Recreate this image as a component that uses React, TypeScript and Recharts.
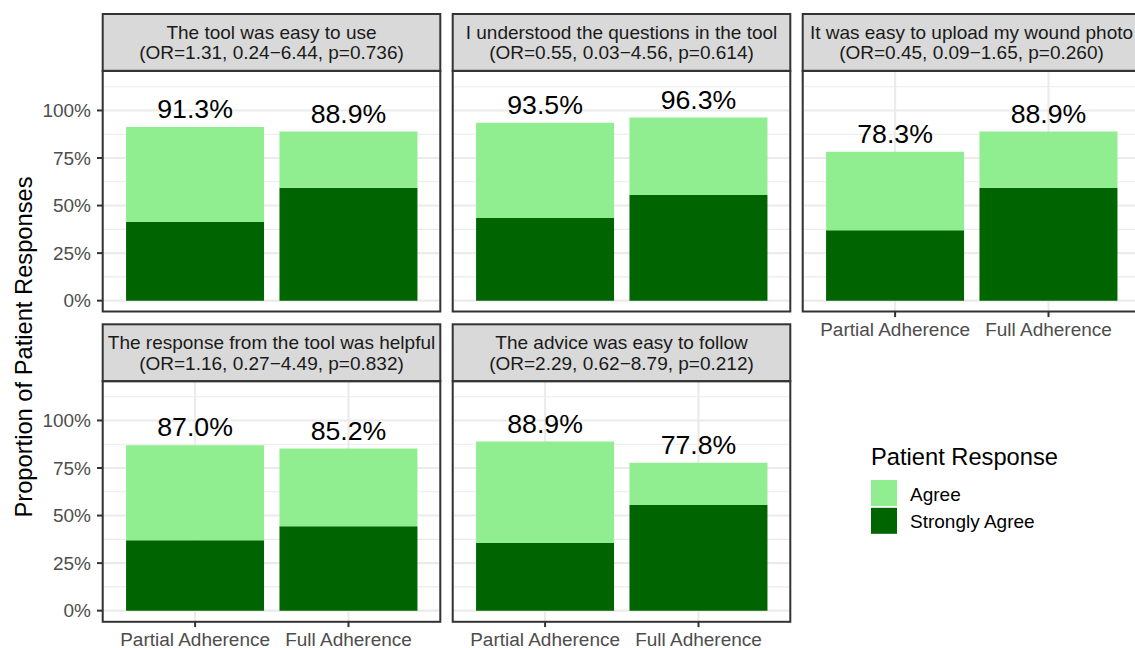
import React from 'react';
import { BarChart, Bar, XAxis, YAxis, CartesianGrid, LabelList } from 'recharts';

const adherenceGroups = ['Partial Adherence', 'Full Adherence'];
const questions = [
  'The tool was easy to use',
  'I understood the questions in the tool',
  'It was easy to upload my wound photo',
  'The response from the tool was helpful',
  'The advice was easy to follow',
];
const oddsRatioText = [
  '(OR=1.31, 0.24\u22126.44, p=0.736)',
  '(OR=0.55, 0.03\u22124.56, p=0.614)',
  '(OR=0.45, 0.09\u22121.65, p=0.260)',
  '(OR=1.16, 0.27\u22124.49, p=0.832)',
  '(OR=2.29, 0.62\u22128.79, p=0.212)',
];
const totalAgreePartial = [91.3, 93.5, 78.3, 87.0, 88.9];
const totalAgreeFull = [88.9, 96.3, 88.9, 85.2, 77.8];
const stronglyAgreePartial = [41.3, 43.5, 37.0, 37.0, 35.6];
const stronglyAgreeFull = [59.3, 55.6, 59.3, 44.4, 55.6];
const responseLevels = ['Agree', 'Strongly Agree'];
const responseColors = ['#90EE90', '#006400'];
const yTicks = [0, 25, 50, 75, 100];
const yMinorTicks = [12.5, 37.5, 62.5, 87.5, 112.5];
const yDomain: [number, number] = [-5.75, 120.75];

const FONT = '"Liberation Sans", Arial, Helvetica, sans-serif';
const COL_LEFT = [102.7, 452.7, 802.7];
const PANEL_W = 337.6;
const STRIP_TOP = [14, 324.3];
const STRIP_H = 56.9;
const PANEL_H = 240.6;

function facetData(i: number) {
  const totals = [totalAgreePartial[i], totalAgreeFull[i]];
  const strong = [stronglyAgreePartial[i], stronglyAgreeFull[i]];
  return adherenceGroups.map((g, j) => ({
    group: g,
    strongly: strong[j],
    agree: Math.round((totals[j] - strong[j]) * 10) / 10,
    label: totals[j].toFixed(1) + '%',
  }));
}

function Panel({ i }: { i: number }) {
  const row = Math.floor(i / 3);
  const col = i % 3;
  const showY = col === 0;
  const showX = i >= 2;
  const yW = showY ? 100 : 0;
  const xH = showX ? 40 : 0;
  const left = COL_LEFT[col] - yW;
  const top = STRIP_TOP[row] + STRIP_H;
  const w = PANEL_W + yW;
  const h = PANEL_H + xH;
  return (
    <div style={{ position: 'absolute', left, top, width: w, height: h }}>
      <BarChart
        width={w}
        height={h}
        data={facetData(i)}
        margin={{ top: 0, right: 0, bottom: 0, left: 0 }}
        barCategoryGap="5%"
      >
        <CartesianGrid horizontalValues={yMinorTicks} vertical={false} stroke="#EBEBEB" strokeWidth={1.1} />
        <CartesianGrid horizontalValues={yTicks} stroke="#EBEBEB" strokeWidth={2.1} />
        <XAxis
          dataKey="group"
          type="category"
          padding={{ left: 15.4, right: 15.4 }}
          height={xH}
          interval={0}
          axisLine={false}
          tickLine={showX ? { stroke: '#333333', strokeWidth: 2 } : false}
          tick={showX ? { fill: '#4D4D4D', fontSize: 19, fontFamily: FONT } : false}
          tickSize={5.5}
          tickMargin={5.5}
        />
        <YAxis
          type="number"
          domain={yDomain}
          ticks={yTicks}
          interval={0}
          allowDataOverflow
          hide={!showY}
          width={100}
          axisLine={false}
          tickLine={{ stroke: '#333333', strokeWidth: 2 }}
          tick={{ fill: '#4D4D4D', fontSize: 19, fontFamily: FONT }}
          tickSize={6}
          tickMargin={6}
          tickFormatter={(v: number) => `${v}%`}
        />
        <Bar dataKey="strongly" stackId="s" fill={responseColors[1]} isAnimationActive={false} />
        <Bar dataKey="agree" stackId="s" fill={responseColors[0]} isAnimationActive={false}>
          <LabelList dataKey="label" position="top" offset={9} fill="#000000" fontSize={26.7} fontFamily={FONT} />
        </Bar>
      </BarChart>
    </div>
  );
}

export default function App() {
  return (
    <div
      style={{
        position: 'absolute',
        left: 0,
        top: 0,
        width: 1135,
        height: 648,
        overflow: 'hidden',
        background: '#ffffff',
        fontFamily: FONT,
      }}
    >
      {questions.map((_, i) => (
        <Panel key={i} i={i} />
      ))}
      <svg
        width={1135}
        height={648}
        style={{ position: 'absolute', left: 0, top: 0, pointerEvents: 'none' }}
      >
        {questions.map((q, i) => {
          const row = Math.floor(i / 3);
          const col = i % 3;
          const x = COL_LEFT[col];
          const st = STRIP_TOP[row];
          const cx = x + PANEL_W / 2;
          return (
            <g key={i}>
              <rect x={x} y={st} width={PANEL_W} height={STRIP_H} fill="#D9D9D9" stroke="#333333" strokeWidth={2} />
              <text x={cx} y={st + 24.6} textAnchor="middle" fontSize={19} fill="#1A1A1A" fontFamily={FONT}>
                {q}
              </text>
              <text x={cx} y={st + 45.3} textAnchor="middle" fontSize={19} fill="#1A1A1A" fontFamily={FONT}>
                {oddsRatioText[i]}
              </text>
              <rect x={x} y={st + STRIP_H} width={PANEL_W} height={PANEL_H} fill="none" stroke="#333333" strokeWidth={2} />
            </g>
          );
        })}
        <text
          x={31.7}
          y={347}
          transform="rotate(-90 31.7 347)"
          textAnchor="middle"
          fontSize={23.7}
          fill="#000000"
          fontFamily={FONT}
        >
          Proportion of Patient Responses
        </text>
        <text x={871} y={465} fontSize={23.7} fill="#000000" fontFamily={FONT}>
          Patient Response
        </text>
        {responseLevels.map((lvl, k) => (
          <g key={lvl}>
            <rect x={871} y={480 + k * 27.8} width={26} height={26} fill={responseColors[k]} />
            <text x={910} y={500.7 + k * 27.6} fontSize={19} fill="#000000" fontFamily={FONT}>
              {lvl}
            </text>
          </g>
        ))}
      </svg>
    </div>
  );
}
